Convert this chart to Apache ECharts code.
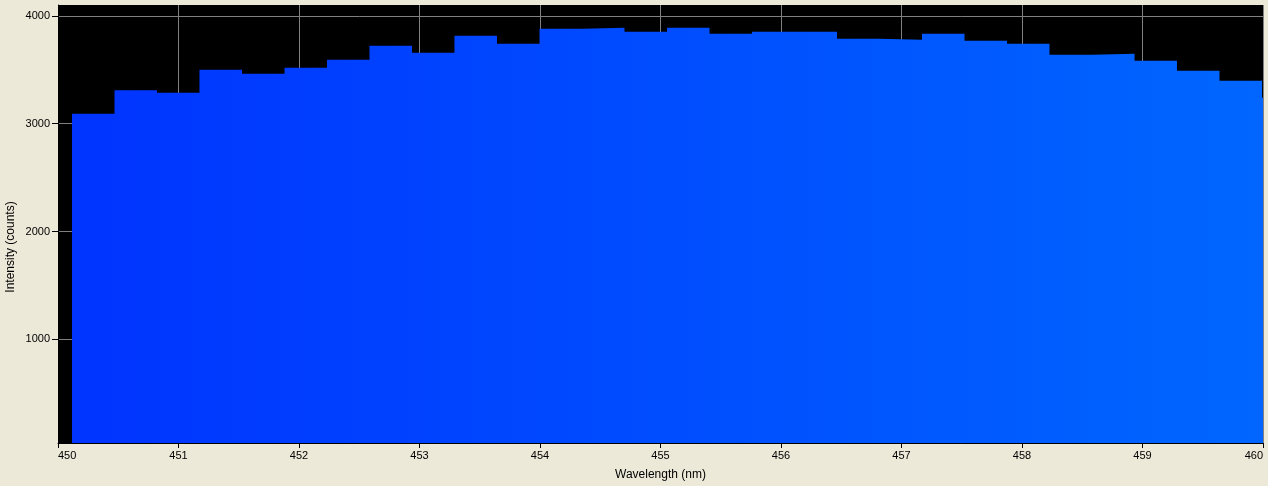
<!DOCTYPE html>
<html><head><meta charset="utf-8">
<script src="https://cdn.jsdelivr.net/npm/echarts@6/dist/echarts.min.js"></script>
<style>html,body{margin:0;padding:0;background:#ECE9D8;}#c{width:1268px;height:486px;}</style>
</head><body><div id="c"></div>
<script>
// Left edge (nm) of each spectrometer bin
const binStart = [450.116, 450.469, 450.821, 451.174, 451.527, 451.880, 452.232, 452.585,
  452.938, 453.290, 453.643, 453.996, 454.348, 454.701, 455.054, 455.407, 455.759, 456.112,
  456.465, 456.817, 457.170, 457.523, 457.876, 458.228, 458.581, 458.934, 459.286, 459.639, 459.992];
// Right edge of the last bin (nm)
const lastBinEnd = 460.344;
// Intensity (counts) of each bin
const intensity = [3093, 3309, 3287, 3500, 3463, 3519, 3593, 3722, 3657, 3815, 3741, 3880, 3889,
  3852, 3889, 3833, 3852, 3852, 3787, 3778, 3833, 3769, 3741, 3639, 3648, 3583, 3491, 3398, 3241];
const yTickValues = [1000, 2000, 3000, 4000];
const xTitle = 'Wavelength (nm)';
const yTitle = 'Intensity (counts)';

const stepData = binStart.map((x, i) => [x, intensity[i]]);
stepData.push([lastBinEnd, intensity[intensity.length - 1]]);

// spectral colour for a wavelength in the 440-490 nm band
function specColor(nm) {
  const g = Math.round((nm - 440) / 50 * 255);
  return 'rgb(0,' + g + ',255)';
}

const font = '"Liberation Sans", Arial, sans-serif';
const chart = echarts.init(document.getElementById('c'), null, {renderer: 'canvas'});
const gridLeft = 58, gridRight = 5;
const plotX0 = gridLeft, plotX1 = 1268 - gridRight;

chart.setOption({
  backgroundColor: '#ECE9D8',
  animation: false,
  grid: {left: gridLeft, right: gridRight, top: 5, bottom: 42, show: true,
    backgroundColor: '#000000', borderWidth: 0},
  xAxis: {
    type: 'value', min: 450, max: 460, interval: 1,
    axisLine: {show: true, onZero: false, lineStyle: {color: '#000', width: 1}},
    axisTick: {show: true, length: 5, lineStyle: {color: '#000'}},
    axisLabel: {color: '#000', fontSize: 11, fontFamily: font, margin: 7,
      alignMinLabel: 'left', alignMaxLabel: 'right', formatter: v => String(v)},
    splitLine: {show: true, lineStyle: {color: '#808080', width: 1}},
    name: xTitle, nameLocation: 'middle', nameGap: 26,
    nameTextStyle: {color: '#000', fontSize: 12, fontFamily: font}
  },
  yAxis: {
    type: 'value', min: 40, max: 4100,
    axisLine: {show: true, lineStyle: {color: '#000'}},
    axisTick: {show: true, length: 6, customValues: yTickValues, lineStyle: {color: '#000'}},
    axisLabel: {color: '#000', fontSize: 11, fontFamily: font, margin: 8,
      customValues: yTickValues, formatter: v => String(v)},
    splitLine: {show: true, lineStyle: {color: '#808080', width: 1}}
  },
  graphic: [{
    type: 'text',
    x: 11, y: 247, rotation: Math.PI / 2,
    style: {text: yTitle, fill: '#000', font: '12px ' + font, textAlign: 'center', textVerticalAlign: 'middle'}
  }],
  series: [{
    type: 'line', step: 'end', symbol: 'none', z: 3, clip: true,
    data: stepData,
    lineStyle: {width: 0, opacity: 0},
    areaStyle: {
      opacity: 1,
      color: new echarts.graphic.LinearGradient(plotX0, 0, plotX1, 0, [
        {offset: 0, color: specColor(450)},
        {offset: 1, color: specColor(460)}
      ], true)
    }
  }]
});
</script></body></html>
